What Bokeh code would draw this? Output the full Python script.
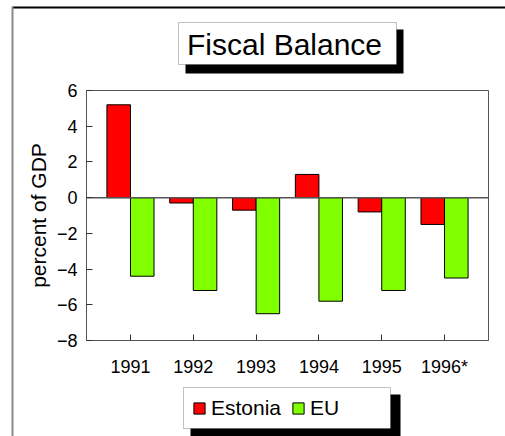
from bokeh.plotting import figure
from bokeh.models import (ColumnDataSource, Range1d, FixedTicker, LinearAxis,
                          BoxAnnotation, Label, Legend, LegendItem)
from bokeh.transform import dodge
from bokeh.embed import file_html
from bokeh.resources import INLINE

# Fiscal balance, percent of GDP
years = ["1991", "1992", "1993", "1994", "1995", "1996*"]
estonia = [5.2, -0.3, -0.7, 1.3, -0.8, -1.5]
eu = [-4.4, -5.2, -6.5, -5.8, -5.2, -4.5]
y_ticks = [-8, -6, -4, -2, 0, 2, 4, 6]

FONT = "Liberation Sans"
RED = "#FF0000"
GREEN = "#80FF00"
AXIS_GREY = "#555555"

idx = list(range(len(years)))
src = ColumnDataSource(dict(x=idx, year=years, estonia=estonia, eu=eu))

# page size and the plotting box on it (px)
W, H = 505, 436
FL, FT, FR, FB = 86, 90, 488, 340

# value extents of the plotting box
X_LO, X_HI = -0.7, len(years) - 1 + 0.7
Y_LO, Y_HI = y_ticks[0], y_ticks[-1]

# the frame fills the whole page; ranges are stretched so the plotting box
# lands at FL..FR / FT..FB
pxx = (FR - FL) / (X_HI - X_LO)
pxy = (FB - FT) / (Y_HI - Y_LO)
x_range = Range1d(X_LO - FL / pxx, X_HI + (W - FR) / pxx)
y_range = Range1d(Y_LO - (H - FB) / pxy, Y_HI + FT / pxy)

p = figure(width=W, height=H, x_range=x_range, y_range=y_range,
           x_axis_location=None, y_axis_location=None,
           output_backend="svg", toolbar_location=None, min_border=0)
p.background_fill_color = "white"
p.border_fill_color = "white"
p.outline_line_color = None
p.xgrid.visible = False
p.ygrid.visible = False


def sx(x):
    return x


def sy(y):
    return H - y


def screen_box(x0, y0, x1, y1, **kw):
    return BoxAnnotation(left=sx(x0), right=sx(x1), top=sy(y0), bottom=sy(y1),
                         left_units="screen", right_units="screen",
                         top_units="screen", bottom_units="screen", **kw)


# page border (top and left edges)
p.add_layout(screen_box(12, 6, 520, 8, fill_color="black", fill_alpha=1, line_color=None))
p.add_layout(screen_box(11, 6, 13, 450, fill_color="#8a8a8a", fill_alpha=1, line_color=None))

# plotting box outline
p.quad(left=[X_LO], right=[X_HI], bottom=[Y_LO], top=[Y_HI],
       fill_color=None, line_color=AXIS_GREY, line_width=1)

bw = 0.375
r_est = p.vbar(x=dodge("x", -bw / 2), top="estonia", bottom=0,
               width=bw, source=src, fill_color=RED, line_color="black", line_width=1)
r_eu = p.vbar(x=dodge("x", bw / 2), top="eu", bottom=0,
              width=bw, source=src, fill_color=GREEN, line_color="black", line_width=1)

# zero line across the plotting box
p.segment(x0=[X_LO], x1=[X_HI], y0=[0], y1=[0], line_color=AXIS_GREY, line_width=1.5)

# axes pinned to the plotting box edges
yaxis = LinearAxis(fixed_location=X_LO, bounds=(Y_LO, Y_HI),
                   ticker=FixedTicker(ticks=y_ticks), axis_label="percent of GDP")
xaxis = LinearAxis(fixed_location=Y_LO, bounds=(X_LO, X_HI),
                   ticker=FixedTicker(ticks=idx),
                   major_label_overrides={i: y for i, y in zip(idx, years)})
for ax in (xaxis, yaxis):
    ax.axis_line_color = AXIS_GREY
    ax.major_tick_line_color = "#333333"
    ax.major_tick_in = 6
    ax.major_tick_out = 0
    ax.minor_tick_line_color = None
    ax.major_label_text_font = FONT
    ax.major_label_text_font_size = "18px"
    ax.major_label_text_color = "black"
xaxis.major_label_standoff = 16
yaxis.major_label_standoff = 9
yaxis.axis_label_text_font = FONT
yaxis.axis_label_text_font_size = "21px"
yaxis.axis_label_text_font_style = "normal"
yaxis.axis_label_text_color = "black"
yaxis.axis_label_standoff = 4
p.add_layout(yaxis, "left")
p.add_layout(xaxis, "below")

# title box with drop shadow
p.add_layout(screen_box(185, 29, 403, 73, fill_color="black", fill_alpha=1, line_color=None))
p.add_layout(screen_box(178, 22, 396, 64, fill_color="white", fill_alpha=1,
                        line_color="#333333", line_width=1))
p.add_layout(Label(x=sx(284), y=sy(44), x_units="screen", y_units="screen",
                   text="Fiscal Balance", text_font=FONT, text_font_size="30px",
                   text_align="center", text_baseline="middle", text_color="black"))

# legend box with drop shadow
p.add_layout(screen_box(190, 394, 400, 450, fill_color="black", fill_alpha=1, line_color=None))
p.add_layout(screen_box(183, 387, 390, 428, fill_color="white", fill_alpha=1,
                        line_color="#333333", line_width=1))
legend = Legend(items=[LegendItem(label="Estonia", renderers=[r_est]),
                       LegendItem(label="EU", renderers=[r_eu])],
                orientation="horizontal", location=(sx(192), sy(420)),
                glyph_width=14, glyph_height=14, label_standoff=5, spacing=10,
                padding=0, margin=0, border_line_color=None, background_fill_alpha=0,
                label_text_font=FONT, label_text_font_size="21px", label_text_color="black")
p.add_layout(legend)

open("out.html", "w").write(file_html(p, INLINE))
